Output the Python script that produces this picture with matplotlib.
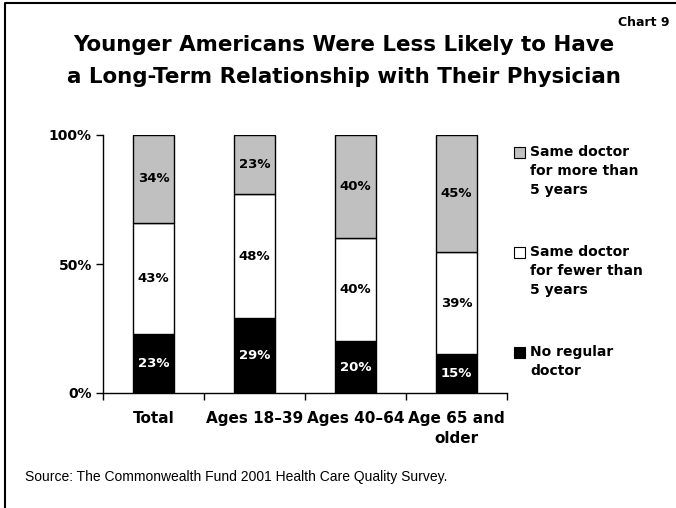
import matplotlib.pyplot as plt
from matplotlib.patches import Rectangle
from matplotlib.lines import Line2D
import numpy as np

categories = ["Total", "Ages 18\u201339", "Ages 40\u201364", "Age 65 and\nolder"]
no_regular = [23, 29, 20, 15]
fewer_than_5 = [43, 48, 40, 39]
more_than_5 = [34, 23, 40, 45]

series_labels = ["Same doctor\nfor more than\n5 years",
                 "Same doctor\nfor fewer than\n5 years",
                 "No regular\ndoctor"]
series_colors = ["#C0C0C0", "#FFFFFF", "#000000"]

W, H = 676, 508
fig = plt.figure(figsize=(W / 100, H / 100), dpi=100)

heavy = ["DejaVu Sans"]
plain = ["Liberation Sans", "DejaVu Sans"]


def fx(x):
    return x / W


def fy(y):
    return 1 - y / H


# plot area
ax = fig.add_axes([fx(103), fy(393), fx(507) - fx(103), fy(135) - fy(393)])

stack = np.array([no_regular, fewer_than_5, more_than_5], dtype=float)
totals = stack.sum(axis=0)
shares = stack / totals * 100  # 100% stacked columns

x = np.arange(len(categories))
bottom = np.zeros(len(categories))
fill = ["#000000", "#FFFFFF", "#C0C0C0"]
text_col = ["white", "black", "black"]
for i in range(3):
    ax.bar(x, shares[i], 0.4, bottom=bottom, color=fill[i],
           edgecolor="black", linewidth=1, zorder=2)
    for j in range(len(categories)):
        ax.text(x[j], bottom[j] + shares[i][j] / 2, "%d%%" % stack[i][j],
                ha="center", va="center", fontsize=9.5, fontweight="bold",
                family=heavy, color=text_col[i], zorder=3)
    bottom += shares[i]

ax.set_xlim(-0.5, len(categories) - 0.5)
ax.set_ylim(0, 100)
ax.set_yticks([0, 50, 100])
ax.set_yticklabels(["0%", "50%", "100%"], fontsize=10, fontweight="bold",
                   family=heavy)
ax.tick_params(axis="y", length=5, width=1, pad=3)

ax.set_xticks(x)
ax.set_xticklabels(categories, fontsize=11, fontweight="bold", family=heavy,
                   linespacing=1.45)
ax.tick_params(axis="x", which="major", length=0, pad=13)
ax.set_xticks(np.arange(-0.5, len(categories)), minor=True)
ax.tick_params(axis="x", which="minor", length=5, width=1)
for lab in ax.get_xticklabels():
    lab.set_verticalalignment("top")

for side in ["top", "right"]:
    ax.spines[side].set_visible(False)
for side in ["left", "bottom"]:
    ax.spines[side].set_linewidth(1)

# legend, drawn by hand so the swatch sits beside the first line
legend_y = [152, 252, 352]
for lab, col, y in zip(series_labels, series_colors, legend_y):
    fig.patches.append(Rectangle((fx(514), fy(y + 5.5)), fx(11), 11 / H,
                                 transform=fig.transFigure, facecolor=col,
                                 edgecolor="black", linewidth=0.8))
    fig.text(fx(530), fy(y - 7), lab, ha="left", va="top", fontsize=10,
             fontweight="bold", family=heavy, linespacing=1.45)

# titles and notes
fig.text(fx(344), fy(45), "Younger Americans Were Less Likely to Have",
         ha="center", va="center", fontsize=15.4, fontweight="bold",
         family=heavy)
fig.text(fx(344), fy(77), "a Long-Term Relationship with Their Physician",
         ha="center", va="center", fontsize=15.4, fontweight="bold",
         family=heavy)
fig.text(fx(669), fy(22), "Chart 9", ha="right", va="center", fontsize=9,
         fontweight="bold", family=heavy)
fig.text(fx(25), fy(477), "Source: The Commonwealth Fund 2001 Health Care Quality Survey.",
         ha="left", va="center", fontsize=10, family=plain)

# frame along the top and left edges
fig.add_artist(Line2D([fx(5), fx(5), 1], [0, fy(3), fy(3)],
                      transform=fig.transFigure, color="black", linewidth=1.5))

fig.savefig("out.png", dpi=100)
